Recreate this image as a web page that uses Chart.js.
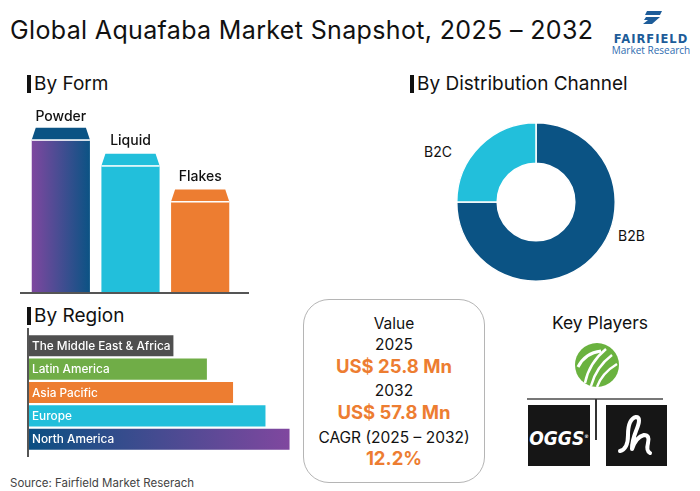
<!DOCTYPE html>
<html><head><meta charset="utf-8">
<script src="https://cdn.jsdelivr.net/npm/chart.js@4.4.1/dist/chart.umd.min.js"></script>
<style>
body{margin:0;width:700px;height:491px;background:#fff;position:relative;overflow:hidden;font-family:Inter,"Open Sans",sans-serif;color:#111;}
.a{position:absolute;white-space:nowrap;}
.h{font-size:19px;padding-left:3px;border-left:4px solid #111;height:18px;line-height:18px;}
.c{text-align:center;}
.box{position:absolute;left:303px;top:299px;width:180px;height:182px;border:1px solid #b5b5b5;border-radius:26px;}
.t{position:absolute;left:0;width:100%;text-align:center;font-size:15.5px;line-height:20px;}
.o{color:#ED7D31;font-weight:700;font-size:18.5px;}
</style></head><body>
<div class="a" style="left:10px;top:14px;font-size:25px;letter-spacing:0.35px;line-height:32px;">Global Aquafaba Market Snapshot, 2025 – 2032</div>

<svg class="a" style="left:605px;top:8px" width="92" height="48" viewBox="0 0 92 48">
  <polygon points="42,3 57,3 55,7 40,7" fill="#1D5C99"/>
  <polygon points="41,9 55,9 47,16 38,16 43,12 39,12" fill="#1D5C99"/>
  <text x="46" y="35" text-anchor="middle" font-family="DejaVu Sans" font-weight="700" font-size="11.5" fill="#1D5C99" letter-spacing="1">FAIRFIELD</text>
  <text x="46" y="46" text-anchor="middle" font-family="Open Sans" font-size="10" fill="#2F6CB0">Market Research</text>
</svg>

<div class="a h" style="left:27px;top:75px;">By Form</div>
<div class="a h" style="left:410px;top:75px;">By Distribution Channel</div>
<div class="a h" style="left:27px;top:307px;">By Region</div>

<div class="a" style="left:26px;top:94px;"><canvas id="form" width="209" height="199"></canvas></div>
<div class="a" style="left:20px;top:292px;width:229px;height:1.5px;background:#555;"></div>

<div class="a" style="left:456px;top:122px;"><canvas id="chan" width="160" height="160"></canvas></div>
<div class="a" style="left:424px;top:143px;font-size:14px;line-height:18px;">B2C</div>
<div class="a" style="left:618px;top:227px;font-size:14px;line-height:18px;">B2B</div>

<div class="a" style="left:28px;top:334px;"><canvas id="reg" width="272" height="117"></canvas></div>
<div class="a" style="left:27px;top:328px;width:1.5px;height:129px;background:#555;"></div>

<div class="box">
  <div class="t" style="top:14px;">Value</div>
  <div class="t" style="top:35px;">2025</div>
  <div class="t o" style="top:56px;">US$ 25.8 Mn</div>
  <div class="t" style="top:81px;">2032</div>
  <div class="t o" style="top:102px;">US$ 57.8 Mn</div>
  <div class="t" style="top:128px;">CAGR (2025 – 2032)</div>
  <div class="t o" style="top:148px;">12.2%</div>
</div>

<div class="a c" style="left:540px;width:120px;top:312px;font-size:17.5px;line-height:22px;">Key Players</div>
<svg class="a" style="left:575px;top:343px" width="44" height="44" viewBox="0 0 44 44">
  <circle cx="22" cy="22" r="22" fill="#6AB23F"/>
  <path d="M3 24 Q 10 10 26 8" stroke="#fff" stroke-width="3" fill="none"/>
  <path d="M10 40 Q 14 20 31 6" stroke="#fff" stroke-width="2.5" fill="none"/>
  <path d="M16 43 Q 21 24 37 12" stroke="#fff" stroke-width="2.5" fill="none"/>
  <path d="M22 44 Q 27 30 42 21" stroke="#fff" stroke-width="2.5" fill="none"/>
</svg>
<div class="a" style="left:527px;top:398px;width:136px;height:1.5px;background:#777;"></div>
<div class="a" style="left:595px;top:399px;width:1.5px;height:41px;background:#333;"></div>
<div class="a" style="left:528px;top:405px;width:62px;height:61px;background:#161616;"></div>
<div class="a c" style="left:528px;top:425px;width:62px;color:#fff;font-family:'Liberation Sans Narrow','DejaVu Sans Condensed',sans-serif;font-weight:700;font-style:italic;font-size:19px;line-height:22px;">OGGS<sup style="font-size:5px">®</sup></div>
<div class="a" style="left:606px;top:405px;width:61px;height:61px;background:#161616;"></div>
<svg class="a" style="left:606px;top:405px" width="61" height="61" viewBox="0 0 61 61">
  <path d="M14 46 Q 22 44 22 30 Q 22 14 30 12 Q 36 12 30 26 Q 26 36 26 44 Q 30 32 38 30 Q 44 30 42 38 Q 40 46 44 48" stroke="#fff" stroke-width="4" fill="none" stroke-linecap="round" stroke-linejoin="round"/>
</svg>

<div class="a" style="left:10px;top:475px;font-size:11.5px;line-height:16px;color:#444;">Source: Fairfield Market Reserach</div>

<script>
// ---- data ----
const formLabels = ['Powder', 'Liquid', 'Flakes'];
const formValues = [41.5, 35, 26];
const formColors = ['#0B5384', '#22BFDB', '#ED7D31'];

const channelLabels = ['B2B', 'B2C'];
const channelValues = [75, 25];
const channelColors = ['#0B5384', '#22BFDB'];

const regionLabels = ['The Middle East & Africa', 'Latin America', 'Asia Pacific', 'Europe', 'North America'];
const regionValues = [13.9, 17.1, 19.6, 22.7, 25];
const regionColors = ['#4F4F4F', '#70AD47', '#ED7D31', '#22BFDB', '#0B5384'];

Chart.defaults.font.family = 'Inter, "Open Sans", sans-serif';

const capPlugin = {
  id: 'caps',
  afterDatasetsDraw(chart) {
    const ctx = chart.ctx;
    const meta = chart.getDatasetMeta(0);
    meta.data.forEach((b, i) => {
      const w = b.width, x0 = b.x - w / 2, x1 = b.x + w / 2, y = b.y, ch = 12;
      ctx.save();
      ctx.fillStyle = '#fff';
      ctx.fillRect(x0 - 1, y - 1, w + 2, ch + 1);
      ctx.beginPath();
      ctx.moveTo(x0 + 4, y); ctx.lineTo(x1 - 4, y); ctx.lineTo(x1, y + ch); ctx.lineTo(x0, y + ch); ctx.closePath();
      ctx.fillStyle = formColors[i];
      ctx.fill();
      ctx.fillStyle = '#fff';
      ctx.fillRect(x0, y + ch - 0.5, w, 1.5);
      ctx.fillStyle = '#111';
      ctx.font = '500 14px Inter, "Open Sans", sans-serif';
      ctx.textAlign = 'center'; ctx.textBaseline = 'middle';
      ctx.fillText(formLabels[i], b.x, y - (i === 0 ? 11 : 13));
      ctx.restore();
    });
  }
};

new Chart(document.getElementById('form'), {
  type: 'bar',
  data: { labels: formLabels, datasets: [{ data: formValues,
    backgroundColor: (c) => {
      if (c.dataIndex !== 0) return formColors[c.dataIndex];
      const xs = c.chart.scales.x;
      if (!xs || !xs.width) return formColors[0];
      const cx = xs.getPixelForValue(0), w = xs.width / 3 * 0.835;
      const g = c.chart.ctx.createLinearGradient(cx - w / 2, 0, cx + w / 2, 0);
      g.addColorStop(0, '#7E479F'); g.addColorStop(1, '#0B5384');
      return g;
    },
    categoryPercentage: 1, barPercentage: 0.835, borderWidth: 0 }] },
  options: { responsive: false, animation: false, devicePixelRatio: 1,
    layout: { padding: 0 },
    plugins: { legend: { display: false }, tooltip: { enabled: false } },
    scales: { x: { display: false }, y: { display: false, min: 0, max: 50 } } },
  plugins: [capPlugin]
});

new Chart(document.getElementById('chan'), {
  type: 'doughnut',
  data: { labels: channelLabels, datasets: [{ data: channelValues, backgroundColor: channelColors, borderColor: '#fff', borderWidth: 1.5 }] },
  options: { responsive: false, animation: false, devicePixelRatio: 1, cutout: '49%',
    layout: { padding: 0 },
    plugins: { legend: { display: false }, tooltip: { enabled: false } } }
});

const regLabelPlugin = {
  id: 'reglabels',
  afterDatasetsDraw(chart) {
    const ctx = chart.ctx;
    chart.getDatasetMeta(0).data.forEach((b, i) => {
      ctx.save();
      ctx.fillStyle = '#fff';
      ctx.font = '500 11.8px Inter, "Open Sans", sans-serif';
      ctx.textAlign = 'left'; ctx.textBaseline = 'middle';
      ctx.fillText(regionLabels[i], b.base + 4, b.y + 0.5);
      ctx.restore();
    });
  }
};

new Chart(document.getElementById('reg'), {
  type: 'bar',
  data: { labels: regionLabels, datasets: [{ data: regionValues,
    backgroundColor: (c) => {
      if (c.dataIndex !== 4) return regionColors[c.dataIndex];
      const xs = c.chart.scales.x;
      if (!xs || !xs.width) return regionColors[4];
      const g = c.chart.ctx.createLinearGradient(xs.getPixelForValue(0), 0, xs.getPixelForValue(25), 0);
      g.addColorStop(0, '#0B4F82'); g.addColorStop(1, '#80479F');
      return g;
    },
    categoryPercentage: 1, barPercentage: 0.9, borderWidth: 0 }] },
  options: { indexAxis: 'y', responsive: false, animation: false, devicePixelRatio: 1,
    layout: { padding: 0 },
    plugins: { legend: { display: false }, tooltip: { enabled: false } },
    scales: { x: { display: false, min: 0, max: 26 }, y: { display: false } } },
  plugins: [regLabelPlugin]
});
</script>
</body></html>
